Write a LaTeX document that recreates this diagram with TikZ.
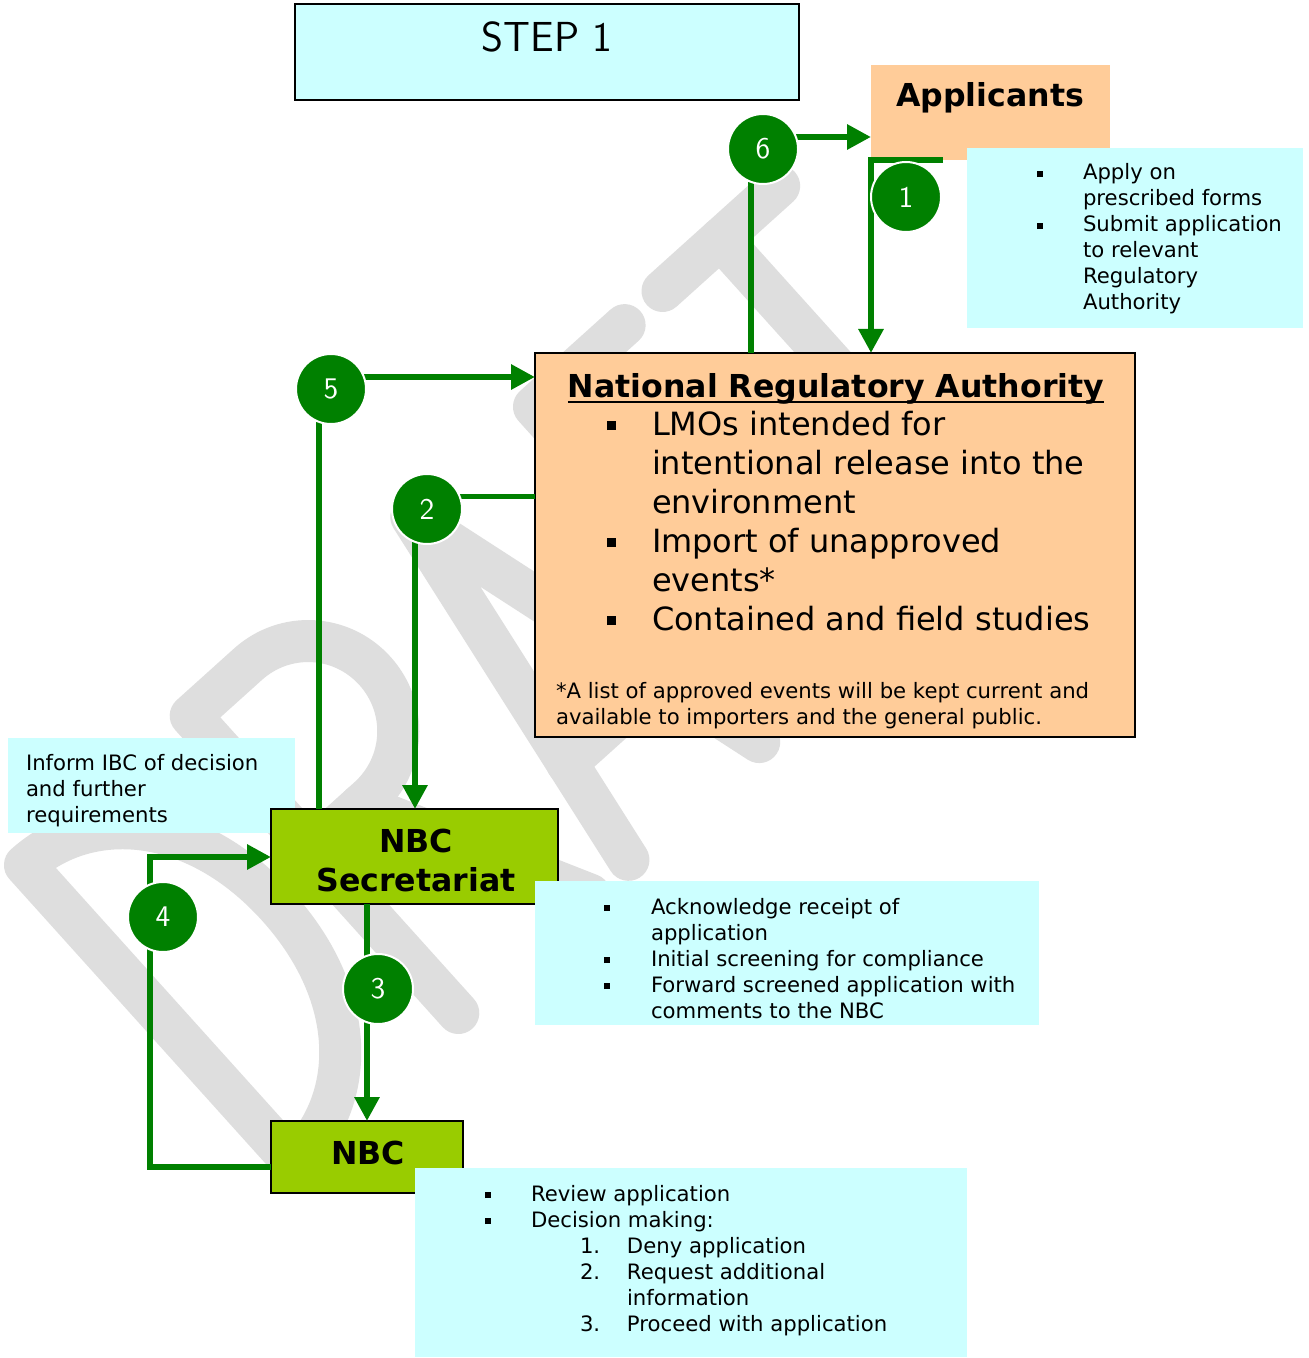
\documentclass[tikz,border=0pt]{standalone}
\usepackage{fontspec}
\setmainfont{DejaVu Sans}
\usetikzlibrary{arrows.meta}

\definecolor{paleCyan}{HTML}{CCFFFF}
\definecolor{peach}{HTML}{FFCC99}
\definecolor{lime}{HTML}{99CC00}
\definecolor{flowgreen}{HTML}{008000}
\definecolor{wmgray}{RGB}{222,222,222}

% bullets and indents for the item lists
\newcommand\smallsq{\rule[1.4pt]{3pt}{3pt}}
\newcommand\bigsq{\rule[2.4pt]{4.5pt}{4.5pt}}
\newcommand\sitem[1]{\makebox[#1][l]{\smallsq}}
\newcommand\bitem[1]{\makebox[#1][l]{\bigsq}}
\newcommand\gap[1]{\hspace*{#1}}

\begin{document}
\begin{tikzpicture}[x=0.5pt, y=-0.5pt,
  panel/.style={rectangle, inner sep=0pt, outer sep=0pt, anchor=north west},
  notebox/.style={panel, fill=paleCyan},
  txt/.style={inner sep=0pt, outer sep=0pt, anchor=base west},
  ctxt/.style={inner sep=0pt, outer sep=0pt, anchor=base},
  title/.style={ctxt, font=\bfseries\fontsize{15.8}{19}\selectfont},
  flowline/.style={draw=flowgreen, line width=3pt},
  flow/.style={flowline, -{Triangle[length=12pt,width=12pt]}},
  numdot/.style={circle, fill=flowgreen, draw=white, line width=1pt,
    minimum size=35pt, inner sep=0pt, text=white,
    font=\sffamily\fontsize{15}{15}\selectfont},
  wmark/.style={draw=wmgray, line width=21pt, line cap=round, line join=round}
]
\useasboundingbox (0,0) rectangle (1308,1358);
\fill[white] (0,0) rectangle (1308,1358);

% ---- diagonal DRAFT watermark, letters drawn as thick strokes ----
\begin{scope}[shift={(25,865)}, x={(0.3715pt,0.3345pt)}, y={(0.3345pt,-0.3715pt)}]
  % D
  \draw[wmark] (0,400) -- (0,0) .. controls (85,0) and (160,75) .. (160,200)
        .. controls (160,325) and (85,400) .. (0,400) -- cycle;
  % R
  \draw[wmark] (223,400) -- (223,0) -- (300,0) .. controls (350,0) and (390,40) .. (390,90)
        .. controls (390,140) and (350,180) .. (300,180) -- (223,180);
  \draw[wmark] (290,180) -- (400,400);
  % A
  \draw[wmark] (452,400) -- (520,0) -- (628,400);
  \draw[wmark] (471,287) -- (597,287);
  % F
  \draw[wmark] (807,0) -- (685,0) -- (685,400);
  \draw[wmark] (685,185) -- (790,185);
  % T
  \draw[wmark] (858,0) -- (1015,0);
  \draw[wmark] (936,0) -- (936,400);
\end{scope}

% ---- boxes ----
\node[notebox, minimum width=143.5pt, minimum height=47.5pt] (ibc) at (8,738) {};
\node[panel, fill=paleCyan, draw=black, line width=1.2pt, minimum width=252pt, minimum height=48pt] (step) at (295,4) {};
\node[panel, fill=peach, minimum width=119.5pt, minimum height=47.5pt] (app) at (871,65) {};
\node[panel, fill=peach, draw=black, line width=1pt, minimum width=300pt, minimum height=192pt] (nra) at (535,353) {};
\node[panel, fill=lime, draw=black, line width=1pt, minimum width=143.5pt, minimum height=47.5pt] (sec) at (271,809) {};
\node[panel, fill=lime, draw=black, line width=1pt, minimum width=96pt, minimum height=36pt] (nbc) at (271,1121) {};
\node[notebox, minimum width=168pt, minimum height=90pt] (appd) at (967,148) {};
\node[notebox, minimum width=252pt, minimum height=72pt] (secd) at (535,881) {};
\node[notebox, minimum width=276pt, minimum height=94.5pt] (nbcd) at (415,1168) {};

% ---- connectors ----
\coordinate (k6) at (751,137);
\coordinate (k5) at (319,377);
\coordinate (k2) at (415,496);
\coordinate (k3) at (367,1000);
\coordinate (k4a) at (150,1167);
\coordinate (k4b) at (150,857);

\draw[flow] ([xshift=36pt]app.south west) -- (app.south west) -- (app.south west |- nra.north);
\draw[flow] (nra.north -| k6) -- (k6) -- (k6 -| app.west);
\draw[flow] (sec.north -| k5) -- (k5) -- (k5 -| nra.west);
\draw[flowline, line width=2.5pt] (k2 -| nra.west) -- ([xshift=-0.25pt]k2);
\draw[flow] ([yshift=0.75pt]k2) -- (k2 |- sec.north);
\draw[flow] (sec.south -| k3) -- (nbc.north -| k3);
\draw[flow] (k4a -| nbc.west) -- (k4a) -- (k4b) -- (k4b -| sec.west);

% ---- numbered steps ----
\node[numdot] (n6) at (763,149) {6};
\node[numdot] (n1) at (906,197) {1};
\node[numdot] (n5) at (331,389) {5};
\node[numdot] (n2) at (427,509) {2};
\node[numdot] (n4) at (163,917) {4};
\node[numdot] (n3) at (378,989) {3};

% ---- texts ----
\node[ctxt, font=\sffamily\fontsize{21}{21}\selectfont] (steptext) at (547,52) {STEP 1};
\node[title] (apptext) at (990,107) {Applicants};

\node[txt] (appdtext) at (1037,180) {\parbox[t]{150pt}{\fontsize{10.6}{13}\selectfont
  \sitem{23pt}Apply on\\
  \gap{23pt}prescribed forms\\
  \sitem{23pt}Submit application\\
  \gap{23pt}to relevant\\
  \gap{23pt}Regulatory\\
  \gap{23pt}Authority}};

\node[title] (nratitle) at (836,397) {National Regulatory Authority};
\draw[line width=1.2pt] ([yshift=-2.5pt]nratitle.base west) -- ([yshift=-2.5pt]nratitle.base east);

\node[txt] (nratext) at (606.5,435) {\parbox[t]{270pt}{\fontsize{16}{19.5}\selectfont
  \bitem{22.75pt}LMOs intended for\\
  \gap{22.75pt}intentional release into the\\
  \gap{22.75pt}environment\\
  \bitem{22.75pt}Import of unapproved\\
  \gap{22.75pt}events*\\
  \bitem{22.75pt}Contained and field studies}};

\node[txt] (nranote) at (556,698) {\parbox[t]{290pt}{\fontsize{10.6}{13}\selectfont
  *A list of approved events will be kept current and\\
  available to importers and the general public.}};

\node[txt] (ibctext) at (26,770) {\parbox[t]{140pt}{\fontsize{10.6}{13}\selectfont
  Inform IBC of decision\\
  and further\\
  requirements}};

\node[title] (sectext1) at (416,852) {NBC};
\node[title] (sectext2) at (416,891) {Secretariat};

\node[txt] (secdtext) at (604,914) {\parbox[t]{240pt}{\fontsize{10.6}{13}\selectfont
  \sitem{23.5pt}Acknowledge receipt of\\
  \gap{23.5pt}application\\
  \sitem{23.5pt}Initial screening for compliance\\
  \sitem{23.5pt}Forward screened application with\\
  \gap{23.5pt}comments to the NBC}};

\node[title] (nbctext) at (368,1164) {NBC};

\node[txt] (nbcdtext) at (485,1201) {\parbox[t]{240pt}{\fontsize{10.6}{13}\selectfont
  \sitem{23pt}Review application\\
  \sitem{23pt}Decision making:\\
  \gap{47.5pt}\makebox[23.5pt][l]{1.}Deny application\\
  \gap{47.5pt}\makebox[23.5pt][l]{2.}Request additional\\
  \gap{71pt}information\\
  \gap{47.5pt}\makebox[23.5pt][l]{3.}Proceed with application}};

\end{tikzpicture}
\end{document}
